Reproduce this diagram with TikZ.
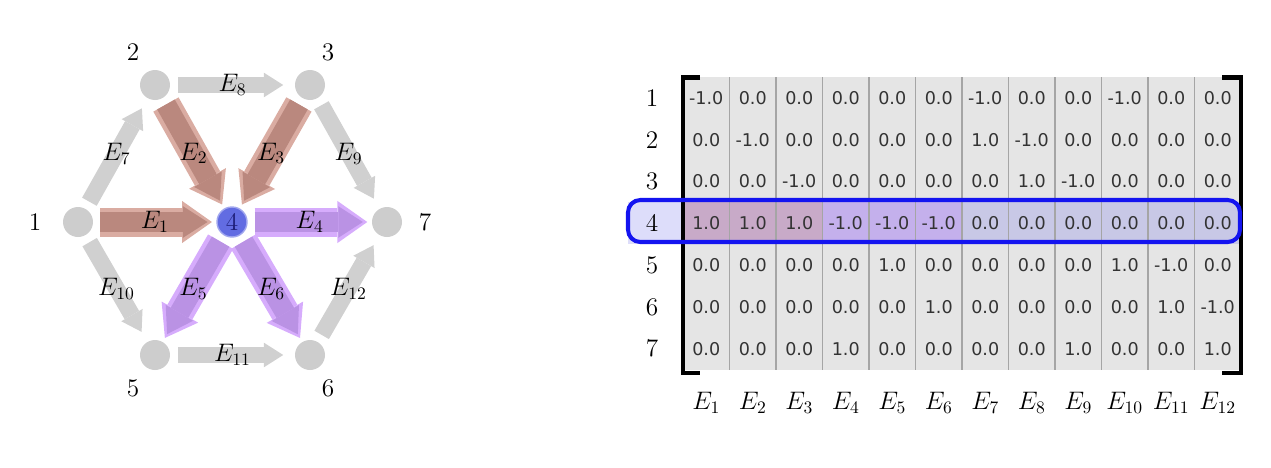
\documentclass[tikz,border=0pt]{standalone}
\usepackage{fontspec}
\newfontfamily\cellfont{DejaVu Sans}
\usetikzlibrary{arrows.meta}
\definecolor{nodegray}{RGB}{205,205,205}
\definecolor{edgegray}{RGB}{208,208,208}
\definecolor{brownout}{RGB}{218,172,162}
\definecolor{brownin}{RGB}{186,136,126}
\definecolor{purpout}{RGB}{214,172,252}
\definecolor{purpin}{RGB}{186,146,228}
\definecolor{hubblue}{RGB}{98,108,226}
\definecolor{hubtext}{RGB}{30,30,120}
\definecolor{cellgray}{RGB}{229,229,229}
\definecolor{divgray}{RGB}{165,165,165}
\definecolor{rowin}{RGB}{200,170,200}
\definecolor{rowout}{RGB}{196,176,236}
\definecolor{rowrest}{RGB}{200,200,230}
\definecolor{rowlabel}{RGB}{221,221,250}
\definecolor{framblue}{RGB}{20,20,240}
\begin{document}
\begin{tikzpicture}[x=0.02cm, y=-0.02cm,
    vertex/.style={circle, fill=nodegray, minimum size=0.6cm, inner sep=0pt},
    hub/.style={circle, fill=hubblue, draw=hubblue!60, line width=0.8pt, minimum size=0.6cm, inner sep=0pt, text=hubtext, font=\Large},
    vlabel/.style={font=\Large},
    elabel/.style={midway, font=\Large},
    gedge/.style={draw=edgegray, line width=9.5pt, -{Triangle[length=11pt,width=14pt,line width=0pt]}, shorten <=4.5pt, shorten >=6.5pt},
    inedge/.style={draw=brownin, line width=11.5pt, -{Triangle[length=14pt,width=18pt,line width=0pt]}, shorten <=4pt, shorten >=5pt,
        preaction={draw=brownout, line width=16.5pt, -{Triangle[length=17pt,width=24pt,line width=0pt]}, shorten <=4pt, shorten >=2.5pt}},
    outedge/.style={draw=purpin, line width=11.5pt, -{Triangle[length=14pt,width=18pt,line width=0pt]}, shorten <=4pt, shorten >=5pt,
        preaction={draw=purpout, line width=16.5pt, -{Triangle[length=17pt,width=24pt,line width=0pt]}, shorten <=4pt, shorten >=2.5pt}},
    cell/.style={font=\cellfont\fontsize{10pt}{12pt}\selectfont, text=black!80, inner sep=0pt}]
    \useasboundingbox (0,0) rectangle (1271,467);

    % graph
    \node[vertex] (n1) at (78,222) {};
    \node[vertex] (n2) at (155,85) {};
    \node[vertex] (n3) at (310,85) {};
    \node[hub] (n4) at (232,222) {4};
    \node[vertex] (n5) at (155,355) {};
    \node[vertex] (n6) at (310,355) {};
    \node[vertex] (n7) at (387,222) {};
    \node[vlabel] (l1) at (35,222) {1};
    \node[vlabel] (l2) at (133,52) {2};
    \node[vlabel] (l3) at (328,52) {3};
    \node[vlabel] (l5) at (133,388) {5};
    \node[vlabel] (l6) at (328,388) {6};
    \node[vlabel] (l7) at (425,222) {7};

    \draw[gedge] (n1) -- (n2) node[elabel] {$E_7$};
    \draw[gedge] (n2) -- (n3) node[elabel] {$E_8$};
    \draw[gedge] (n3) -- (n7) node[elabel] {$E_9$};
    \draw[gedge] (n1) -- (n5) node[elabel] {$E_{10}$};
    \draw[gedge] (n5) -- (n6) node[elabel] {$E_{11}$};
    \draw[gedge] (n6) -- (n7) node[elabel] {$E_{12}$};
    \draw[inedge] (n1) -- (n4) node[elabel] {$E_1$};
    \draw[inedge] (n2) -- (n4) node[elabel] {$E_2$};
    \draw[inedge] (n3) -- (n4) node[elabel] {$E_3$};
    \draw[outedge] (n4) -- (n7) node[elabel] {$E_4$};
    \draw[outedge] (n4) -- (n5) node[elabel] {$E_5$};
    \draw[outedge] (n4) -- (n6) node[elabel] {$E_6$};

    % incidence matrix
    \fill[cellgray] (683,77) rectangle (1241,369.6);
    \fill[rowlabel] (628,202.4) rectangle (683,244.2);
    \fill[rowin] (683,202.4) rectangle (822.5,244.2);
    \fill[rowout] (822.5,202.4) rectangle (962,244.2);
    \fill[rowrest] (962,202.4) rectangle (1241,244.2);
    \foreach \c in {1,...,11}
        \draw[divgray, line width=1.1pt] (683+46.5*\c,77) -- (683+46.5*\c,369.6);
    \foreach \vals [count=\r] in {
        {-1.0,0.0,0.0,0.0,0.0,0.0,-1.0,0.0,0.0,-1.0,0.0,0.0},
        {0.0,-1.0,0.0,0.0,0.0,0.0,1.0,-1.0,0.0,0.0,0.0,0.0},
        {0.0,0.0,-1.0,0.0,0.0,0.0,0.0,1.0,-1.0,0.0,0.0,0.0},
        {1.0,1.0,1.0,-1.0,-1.0,-1.0,0.0,0.0,0.0,0.0,0.0,0.0},
        {0.0,0.0,0.0,0.0,1.0,0.0,0.0,0.0,0.0,1.0,-1.0,0.0},
        {0.0,0.0,0.0,0.0,0.0,1.0,0.0,0.0,0.0,0.0,1.0,-1.0},
        {0.0,0.0,0.0,1.0,0.0,0.0,0.0,0.0,1.0,0.0,0.0,1.0}} {
        \node[vlabel] (r\r) at (652,56.1+41.8*\r) {\r};
        \foreach \v [count=\c] in \vals
            \node[cell] (m\r-\c) at (659.75+46.5*\c,56.1+41.8*\r) {\v};
    }
    \foreach \c in {1,...,12}
        \node[vlabel] (e\c) at (659.75+46.5*\c,403) {$E_{\c}$};

    \draw[line width=2.3pt] (700,77.5) -- (683,77.5) -- (683,373) -- (700,373);
    \draw[line width=2.3pt] (1222,77.5) -- (1241,77.5) -- (1241,373) -- (1222,373);
    \draw[framblue, line width=2.3pt, rounded corners=7pt] (628,200) rectangle (1240,242);
\end{tikzpicture}
\end{document}
